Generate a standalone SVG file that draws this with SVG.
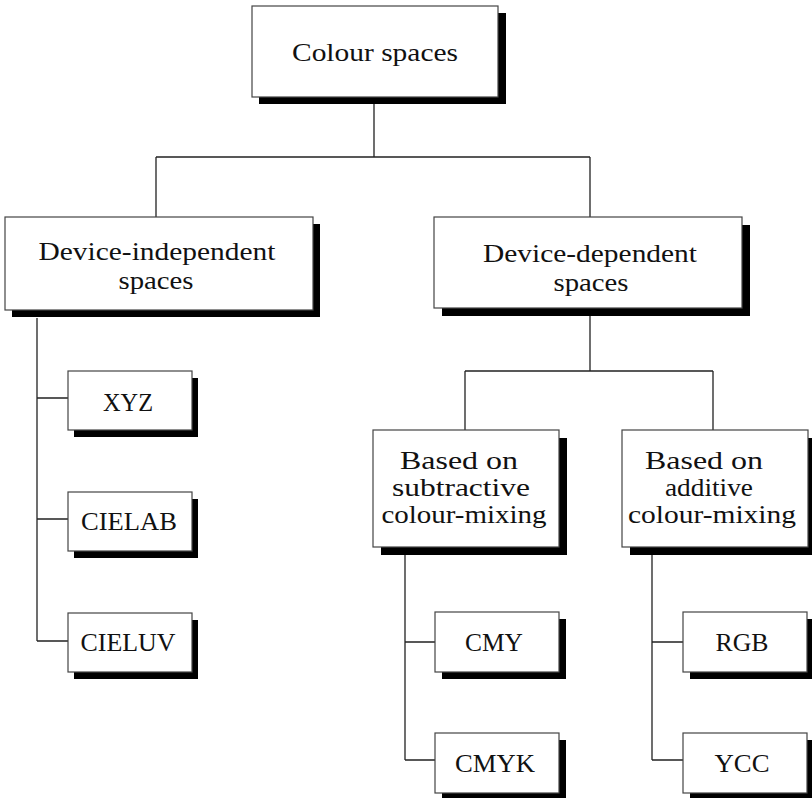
<svg xmlns="http://www.w3.org/2000/svg" width="812" height="801" viewBox="0 0 812 801">
<style>
.box{fill:#fff;stroke:#444;stroke-width:1.2}
.sh{fill:#000}
.t{font-family:"Liberation Serif","Times New Roman",serif;font-size:26px;fill:#111;text-anchor:middle}
.ln{fill:none;stroke:#222;stroke-width:1.3}
</style>
<rect width="812" height="801" fill="#fff"/>
<g id="connectors">
<path class="ln" d="M374,104V157M156,157H590M156,157V217M590,157V217"/>
<path class="ln" d="M37,318V641M37,398H68M37,519H68M37,641H68"/>
<path class="ln" d="M590,316V371M465,371H713M465,371V430M713,371V430"/>
<path class="ln" d="M405,555V760M405,642H435M405,760H435"/>
<path class="ln" d="M652,555V760M652,642H683M652,760H683"/>
</g>
<g id="colour-spaces">
<rect class="sh" x="259" y="13" width="247" height="91"/>
<rect class="box" x="252" y="6" width="246" height="91"/>
<text class="t" x="375" y="61" textLength="166" lengthAdjust="spacingAndGlyphs">Colour spaces</text>
</g>
<g id="device-independent">
<rect class="sh" x="12" y="224" width="308" height="93"/>
<rect class="box" x="5" y="217" width="308" height="93"/>
<text class="t" x="157" y="260" textLength="237" lengthAdjust="spacingAndGlyphs">Device-independent</text>
<text class="t" x="156" y="289" textLength="75" lengthAdjust="spacingAndGlyphs">spaces</text>
</g>
<g id="device-dependent">
<rect class="sh" x="442" y="225" width="308" height="91"/>
<rect class="box" x="434" y="217" width="308" height="91"/>
<text class="t" x="590" y="262" textLength="214" lengthAdjust="spacingAndGlyphs">Device-dependent</text>
<text class="t" x="591" y="291" textLength="75" lengthAdjust="spacingAndGlyphs">spaces</text>
</g>
<g id="subtractive">
<rect class="sh" x="381" y="438" width="186" height="117"/>
<rect class="box" x="373" y="430" width="186" height="117"/>
<text class="t" x="459" y="469" textLength="118" lengthAdjust="spacingAndGlyphs">Based on</text>
<text class="t" x="461" y="496" textLength="138" lengthAdjust="spacingAndGlyphs">subtractive</text>
<text class="t" x="464" y="523" textLength="165" lengthAdjust="spacingAndGlyphs">colour-mixing</text>
</g>
<g id="additive">
<rect class="sh" x="630" y="438" width="186" height="117"/>
<rect class="box" x="622" y="430" width="186" height="117"/>
<text class="t" x="704" y="469" textLength="118" lengthAdjust="spacingAndGlyphs">Based on</text>
<text class="t" x="709" y="496" textLength="88" lengthAdjust="spacingAndGlyphs">additive</text>
<text class="t" x="712" y="523" textLength="168" lengthAdjust="spacingAndGlyphs">colour-mixing</text>
</g>
<g id="xyz">
<rect class="sh" x="74" y="378" width="124" height="59"/>
<rect class="box" x="68" y="371" width="124" height="59"/>
<text class="t" x="128" y="411" textLength="50" lengthAdjust="spacingAndGlyphs">XYZ</text>
</g>
<g id="cielab">
<rect class="sh" x="74" y="499" width="124" height="59"/>
<rect class="box" x="68" y="492" width="124" height="59"/>
<text class="t" x="129" y="530" textLength="96" lengthAdjust="spacingAndGlyphs">CIELAB</text>
</g>
<g id="cieluv">
<rect class="sh" x="74" y="620" width="124" height="59"/>
<rect class="box" x="68" y="613" width="124" height="59"/>
<text class="t" x="128" y="651" textLength="95" lengthAdjust="spacingAndGlyphs">CIELUV</text>
</g>
<g id="cmy">
<rect class="sh" x="442" y="619" width="124" height="60"/>
<rect class="box" x="435" y="612" width="124" height="60"/>
<text class="t" x="494" y="651" textLength="58" lengthAdjust="spacingAndGlyphs">CMY</text>
</g>
<g id="cmyk">
<rect class="sh" x="442" y="740" width="124" height="58"/>
<rect class="box" x="435" y="733" width="124" height="60"/>
<text class="t" x="495" y="772" textLength="80" lengthAdjust="spacingAndGlyphs">CMYK</text>
</g>
<g id="rgb">
<rect class="sh" x="690" y="619" width="124" height="60"/>
<rect class="box" x="683" y="612" width="124" height="60"/>
<text class="t" x="742" y="651" textLength="53" lengthAdjust="spacingAndGlyphs">RGB</text>
</g>
<g id="ycc">
<rect class="sh" x="690" y="740" width="124" height="58"/>
<rect class="box" x="683" y="733" width="124" height="60"/>
<text class="t" x="742" y="772" textLength="55" lengthAdjust="spacingAndGlyphs">YCC</text>
</g>
</svg>
